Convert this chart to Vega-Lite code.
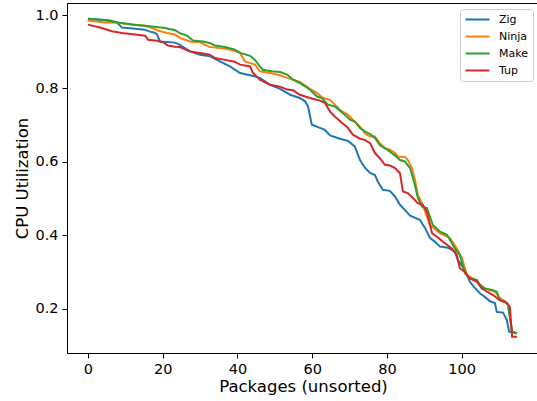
{
  "$schema": "https://vega.github.io/schema/vega-lite/v6.json",
  "autosize": "none",
  "width": 472,
  "height": 350,
  "padding": {"left": 67, "top": 3, "right": 0, "bottom": 48},
  "background": "white",
  "config": {
    "view": {"stroke": "black", "strokeWidth": 1},
    "font": "DejaVu Sans",
    "axis": {"grid": false, "domainColor": "black", "tickColor": "black", "labelColor": "black", "titleColor": "black", "labelFont": "DejaVu Sans", "titleFont": "DejaVu Sans", "labelFontSize": 14.5, "titleFontSize": 16.5, "titleFontWeight": "normal", "tickSize": 5, "labelPadding": 4}
  },
  "data": {"values": [
    {"s":"Zig","x":0,"y":0.990},{"s":"Zig","x":3.2,"y":0.988},{"s":"Zig","x":5.9,"y":0.985},{"s":"Zig","x":7.8,"y":0.980},{"s":"Zig","x":9.1,"y":0.966},{"s":"Zig","x":12.6,"y":0.963},{"s":"Zig","x":15.3,"y":0.960},{"s":"Zig","x":16.6,"y":0.955},{"s":"Zig","x":17.9,"y":0.952},{"s":"Zig","x":18.5,"y":0.947},{"s":"Zig","x":19.3,"y":0.928},{"s":"Zig","x":23.3,"y":0.925},{"s":"Zig","x":24.6,"y":0.919},{"s":"Zig","x":27.3,"y":0.901},{"s":"Zig","x":30.0,"y":0.892},{"s":"Zig","x":32.6,"y":0.888},{"s":"Zig","x":35.3,"y":0.874},{"s":"Zig","x":38.0,"y":0.860},{"s":"Zig","x":40.7,"y":0.842},{"s":"Zig","x":43.4,"y":0.836},{"s":"Zig","x":46.0,"y":0.829},{"s":"Zig","x":48.7,"y":0.810},{"s":"Zig","x":51.4,"y":0.799},{"s":"Zig","x":54.1,"y":0.783},{"s":"Zig","x":56.7,"y":0.774},{"s":"Zig","x":58.1,"y":0.765},{"s":"Zig","x":58.9,"y":0.751},{"s":"Zig","x":59.9,"y":0.701},{"s":"Zig","x":61.2,"y":0.696},{"s":"Zig","x":63.4,"y":0.687},{"s":"Zig","x":64.8,"y":0.672},{"s":"Zig","x":67.4,"y":0.663},{"s":"Zig","x":69.6,"y":0.657},{"s":"Zig","x":71.4,"y":0.642},{"s":"Zig","x":72.8,"y":0.605},{"s":"Zig","x":74.1,"y":0.584},{"s":"Zig","x":75.5,"y":0.570},{"s":"Zig","x":76.8,"y":0.564},{"s":"Zig","x":77.6,"y":0.546},{"s":"Zig","x":78.9,"y":0.524},{"s":"Zig","x":80.8,"y":0.521},{"s":"Zig","x":82.2,"y":0.505},{"s":"Zig","x":83.5,"y":0.483},{"s":"Zig","x":84.8,"y":0.469},{"s":"Zig","x":86.2,"y":0.453},{"s":"Zig","x":88.8,"y":0.442},{"s":"Zig","x":90.2,"y":0.420},{"s":"Zig","x":91.5,"y":0.393},{"s":"Zig","x":92.9,"y":0.382},{"s":"Zig","x":94.2,"y":0.369},{"s":"Zig","x":96.3,"y":0.366},{"s":"Zig","x":98.2,"y":0.355},{"s":"Zig","x":99.0,"y":0.332},{"s":"Zig","x":100.9,"y":0.305},{"s":"Zig","x":102.2,"y":0.273},{"s":"Zig","x":103.6,"y":0.256},{"s":"Zig","x":104.9,"y":0.242},{"s":"Zig","x":106.2,"y":0.232},{"s":"Zig","x":107.6,"y":0.220},{"s":"Zig","x":108.9,"y":0.215},{"s":"Zig","x":109.4,"y":0.191},{"s":"Zig","x":111.1,"y":0.189},{"s":"Zig","x":112.1,"y":0.169},{"s":"Zig","x":112.7,"y":0.137},{"s":"Zig","x":114.8,"y":0.133},
    {"s":"Ninja","x":0,"y":0.985},{"s":"Ninja","x":4.5,"y":0.980},{"s":"Ninja","x":8.0,"y":0.979},{"s":"Ninja","x":11.8,"y":0.974},{"s":"Ninja","x":15.3,"y":0.971},{"s":"Ninja","x":17.1,"y":0.965},{"s":"Ninja","x":18.7,"y":0.958},{"s":"Ninja","x":21.1,"y":0.951},{"s":"Ninja","x":23.3,"y":0.947},{"s":"Ninja","x":24.6,"y":0.938},{"s":"Ninja","x":27.3,"y":0.928},{"s":"Ninja","x":30.0,"y":0.926},{"s":"Ninja","x":32.6,"y":0.913},{"s":"Ninja","x":35.3,"y":0.910},{"s":"Ninja","x":38.0,"y":0.906},{"s":"Ninja","x":40.7,"y":0.897},{"s":"Ninja","x":42.0,"y":0.874},{"s":"Ninja","x":43.4,"y":0.869},{"s":"Ninja","x":44.7,"y":0.865},{"s":"Ninja","x":46.0,"y":0.847},{"s":"Ninja","x":48.7,"y":0.842},{"s":"Ninja","x":51.4,"y":0.836},{"s":"Ninja","x":53.3,"y":0.829},{"s":"Ninja","x":54.9,"y":0.824},{"s":"Ninja","x":56.7,"y":0.818},{"s":"Ninja","x":59.4,"y":0.799},{"s":"Ninja","x":61.3,"y":0.788},{"s":"Ninja","x":62.9,"y":0.774},{"s":"Ninja","x":64.8,"y":0.769},{"s":"Ninja","x":66.1,"y":0.756},{"s":"Ninja","x":67.4,"y":0.742},{"s":"Ninja","x":69.6,"y":0.728},{"s":"Ninja","x":70.9,"y":0.715},{"s":"Ninja","x":72.8,"y":0.696},{"s":"Ninja","x":74.1,"y":0.678},{"s":"Ninja","x":75.5,"y":0.669},{"s":"Ninja","x":76.8,"y":0.669},{"s":"Ninja","x":78.1,"y":0.651},{"s":"Ninja","x":79.5,"y":0.637},{"s":"Ninja","x":80.8,"y":0.633},{"s":"Ninja","x":82.2,"y":0.624},{"s":"Ninja","x":83.0,"y":0.614},{"s":"Ninja","x":84.8,"y":0.614},{"s":"Ninja","x":85.6,"y":0.605},{"s":"Ninja","x":86.7,"y":0.583},{"s":"Ninja","x":87.5,"y":0.551},{"s":"Ninja","x":88.3,"y":0.510},{"s":"Ninja","x":89.4,"y":0.487},{"s":"Ninja","x":91.5,"y":0.428},{"s":"Ninja","x":94.2,"y":0.406},{"s":"Ninja","x":96.9,"y":0.392},{"s":"Ninja","x":98.7,"y":0.364},{"s":"Ninja","x":100.1,"y":0.337},{"s":"Ninja","x":101.4,"y":0.292},{"s":"Ninja","x":103.6,"y":0.278},{"s":"Ninja","x":106.2,"y":0.255},{"s":"Ninja","x":108.9,"y":0.246},{"s":"Ninja","x":110.2,"y":0.229},{"s":"Ninja","x":111.6,"y":0.220},{"s":"Ninja","x":112.4,"y":0.212},{"s":"Ninja","x":113.5,"y":0.138},{"s":"Ninja","x":114.8,"y":0.133},
    {"s":"Make","x":0,"y":0.990},{"s":"Make","x":4.5,"y":0.986},{"s":"Make","x":8.0,"y":0.980},{"s":"Make","x":12.6,"y":0.974},{"s":"Make","x":17.1,"y":0.969},{"s":"Make","x":20.6,"y":0.965},{"s":"Make","x":23.3,"y":0.959},{"s":"Make","x":24.6,"y":0.951},{"s":"Make","x":26.5,"y":0.944},{"s":"Make","x":28.1,"y":0.931},{"s":"Make","x":30.8,"y":0.928},{"s":"Make","x":32.6,"y":0.924},{"s":"Make","x":34.0,"y":0.917},{"s":"Make","x":36.7,"y":0.913},{"s":"Make","x":39.3,"y":0.906},{"s":"Make","x":40.7,"y":0.897},{"s":"Make","x":43.4,"y":0.889},{"s":"Make","x":44.7,"y":0.878},{"s":"Make","x":46.0,"y":0.860},{"s":"Make","x":46.8,"y":0.851},{"s":"Make","x":49.2,"y":0.847},{"s":"Make","x":51.4,"y":0.845},{"s":"Make","x":53.3,"y":0.838},{"s":"Make","x":54.9,"y":0.824},{"s":"Make","x":56.7,"y":0.815},{"s":"Make","x":58.1,"y":0.806},{"s":"Make","x":59.4,"y":0.797},{"s":"Make","x":61.3,"y":0.778},{"s":"Make","x":62.6,"y":0.774},{"s":"Make","x":64.2,"y":0.756},{"s":"Make","x":66.1,"y":0.751},{"s":"Make","x":68.8,"y":0.728},{"s":"Make","x":70.1,"y":0.715},{"s":"Make","x":71.4,"y":0.710},{"s":"Make","x":72.8,"y":0.692},{"s":"Make","x":74.1,"y":0.683},{"s":"Make","x":75.5,"y":0.676},{"s":"Make","x":76.8,"y":0.665},{"s":"Make","x":78.1,"y":0.646},{"s":"Make","x":79.5,"y":0.637},{"s":"Make","x":80.8,"y":0.628},{"s":"Make","x":82.2,"y":0.617},{"s":"Make","x":83.5,"y":0.605},{"s":"Make","x":84.8,"y":0.601},{"s":"Make","x":86.2,"y":0.583},{"s":"Make","x":87.5,"y":0.537},{"s":"Make","x":88.3,"y":0.501},{"s":"Make","x":89.4,"y":0.478},{"s":"Make","x":90.7,"y":0.474},{"s":"Make","x":91.5,"y":0.451},{"s":"Make","x":92.3,"y":0.428},{"s":"Make","x":94.2,"y":0.410},{"s":"Make","x":96.1,"y":0.401},{"s":"Make","x":96.9,"y":0.387},{"s":"Make","x":98.2,"y":0.364},{"s":"Make","x":99.5,"y":0.346},{"s":"Make","x":100.9,"y":0.296},{"s":"Make","x":102.2,"y":0.282},{"s":"Make","x":104.1,"y":0.278},{"s":"Make","x":104.9,"y":0.264},{"s":"Make","x":106.2,"y":0.255},{"s":"Make","x":108.1,"y":0.251},{"s":"Make","x":109.4,"y":0.246},{"s":"Make","x":110.2,"y":0.223},{"s":"Make","x":111.6,"y":0.219},{"s":"Make","x":112.4,"y":0.210},{"s":"Make","x":113.5,"y":0.137},{"s":"Make","x":114.8,"y":0.132},
    {"s":"Tup","x":0,"y":0.974},{"s":"Tup","x":3.7,"y":0.965},{"s":"Tup","x":6.4,"y":0.956},{"s":"Tup","x":9.1,"y":0.951},{"s":"Tup","x":12.6,"y":0.947},{"s":"Tup","x":15.3,"y":0.944},{"s":"Tup","x":16.1,"y":0.933},{"s":"Tup","x":18.5,"y":0.930},{"s":"Tup","x":20.1,"y":0.926},{"s":"Tup","x":21.4,"y":0.917},{"s":"Tup","x":23.3,"y":0.914},{"s":"Tup","x":24.6,"y":0.913},{"s":"Tup","x":27.3,"y":0.901},{"s":"Tup","x":30.0,"y":0.897},{"s":"Tup","x":32.6,"y":0.892},{"s":"Tup","x":34.0,"y":0.883},{"s":"Tup","x":36.7,"y":0.878},{"s":"Tup","x":39.3,"y":0.873},{"s":"Tup","x":40.7,"y":0.865},{"s":"Tup","x":43.4,"y":0.860},{"s":"Tup","x":44.2,"y":0.842},{"s":"Tup","x":46.0,"y":0.824},{"s":"Tup","x":48.7,"y":0.810},{"s":"Tup","x":51.4,"y":0.805},{"s":"Tup","x":53.3,"y":0.797},{"s":"Tup","x":54.9,"y":0.795},{"s":"Tup","x":56.7,"y":0.783},{"s":"Tup","x":59.4,"y":0.774},{"s":"Tup","x":62.1,"y":0.767},{"s":"Tup","x":63.4,"y":0.761},{"s":"Tup","x":64.8,"y":0.737},{"s":"Tup","x":66.1,"y":0.723},{"s":"Tup","x":66.6,"y":0.719},{"s":"Tup","x":68.0,"y":0.706},{"s":"Tup","x":69.3,"y":0.696},{"s":"Tup","x":70.9,"y":0.674},{"s":"Tup","x":72.8,"y":0.663},{"s":"Tup","x":74.1,"y":0.660},{"s":"Tup","x":75.5,"y":0.651},{"s":"Tup","x":76.8,"y":0.624},{"s":"Tup","x":78.1,"y":0.610},{"s":"Tup","x":79.5,"y":0.592},{"s":"Tup","x":80.8,"y":0.590},{"s":"Tup","x":82.2,"y":0.583},{"s":"Tup","x":83.5,"y":0.569},{"s":"Tup","x":84.3,"y":0.519},{"s":"Tup","x":85.6,"y":0.515},{"s":"Tup","x":87.0,"y":0.501},{"s":"Tup","x":88.3,"y":0.487},{"s":"Tup","x":89.6,"y":0.483},{"s":"Tup","x":90.7,"y":0.464},{"s":"Tup","x":92.1,"y":0.405},{"s":"Tup","x":93.4,"y":0.396},{"s":"Tup","x":95.0,"y":0.382},{"s":"Tup","x":97.4,"y":0.364},{"s":"Tup","x":98.7,"y":0.346},{"s":"Tup","x":99.5,"y":0.310},{"s":"Tup","x":100.9,"y":0.300},{"s":"Tup","x":102.2,"y":0.282},{"s":"Tup","x":104.1,"y":0.273},{"s":"Tup","x":105.4,"y":0.255},{"s":"Tup","x":106.8,"y":0.246},{"s":"Tup","x":108.4,"y":0.237},{"s":"Tup","x":110.2,"y":0.223},{"s":"Tup","x":112.1,"y":0.215},{"s":"Tup","x":112.9,"y":0.205},{"s":"Tup","x":113.5,"y":0.123},{"s":"Tup","x":114.8,"y":0.123}
  ]},
  "mark": {"type": "line", "strokeWidth": 2, "clip": true},
  "encoding": {
    "x": {"field": "x", "type": "quantitative", "title": "Packages (unsorted)",
      "scale": {"domain": [-5.6, 120.7], "nice": false, "zero": false},
      "axis": {"values": [0, 20, 40, 60, 80, 100], "titlePadding": 3}},
    "y": {"field": "y", "type": "quantitative", "title": "CPU Utilization",
      "scale": {"domain": [0.079, 1.033], "nice": false, "zero": false},
      "axis": {"values": [0.2, 0.4, 0.6, 0.8, 1.0], "format": ".1f", "titlePadding": 4}},
    "color": {"field": "s", "type": "nominal",
      "scale": {"domain": ["Zig", "Ninja", "Make", "Tup"], "range": ["#1f77b4", "#ff7f0e", "#2ca02c", "#d62728"]},
      "legend": {"title": null, "orient": "top-right", "offset": 6, "symbolType": "M-3,0L3,0", "symbolSize": 64, "symbolStrokeWidth": 2, "symbolOffset": 7, "labelFontSize": 11, "labelFont": "DejaVu Sans", "labelColor": "black", "strokeColor": "#cccccc", "fillColor": "white", "cornerRadius": 3, "padding": 5, "rowPadding": 5, "labelOffset": 16}},
    "order": {"field": "x", "type": "quantitative"}
  }
}
